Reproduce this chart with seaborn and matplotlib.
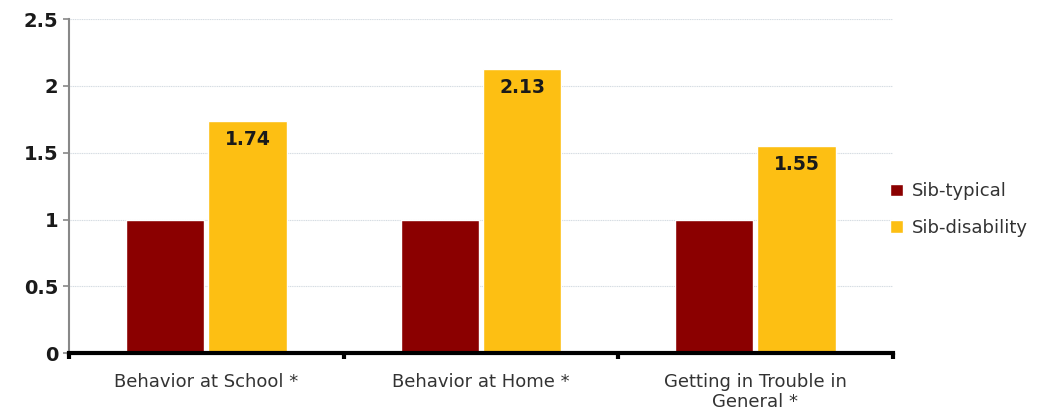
import matplotlib
matplotlib.use("Agg")
import matplotlib.pyplot as plt
import seaborn as sns
import pandas as pd

categories = ["Behavior at School *", "Behavior at Home *", "Getting in Trouble in\nGeneral *"]
groups = ["Sib-typical", "Sib-disability"]
sib_typical = [1.0, 1.0, 1.0]
sib_disability = [1.74, 2.13, 1.55]
yticks = [0, 0.5, 1, 1.5, 2, 2.5]
ytick_labels = ["0", "0.5", "1", "1.5", "2", "2.5"]

colors = {"Sib-typical": "#8B0000", "Sib-disability": "#FDBF13"}

df = pd.DataFrame({
    "category": categories * 2,
    "group": [groups[0]] * 3 + [groups[1]] * 3,
    "value": sib_typical + sib_disability,
})

sns.set_style("white")
plt.rcParams["font.family"] = ["DejaVu Sans"]

fig = plt.figure(figsize=(10.48, 4.15), dpi=100)
ax = fig.add_axes([0.0658, 0.149, 0.786, 0.805])

sns.barplot(data=df, x="category", y="value", hue="group", order=categories,
            hue_order=groups, palette=colors, width=0.6, gap=0.05,
            saturation=1, errorbar=None, ax=ax, legend=True)

# value labels inside the disability bars
cont = ax.containers[1]
for rect, v in zip(cont, sib_disability):
    ax.text(rect.get_x() + rect.get_width() / 2, v - 0.14, f"{v:.2f}",
            ha="center", va="center", fontsize=13.5, fontweight="bold",
            color="#1a1a1a")

ax.set_ylim(0, 2.5)
ax.set_xlim(-0.5, 2.5)
ax.set_yticks(yticks)
ax.set_yticklabels(ytick_labels, fontsize=14, fontweight="bold", color="#1a1a1a")
ax.yaxis.grid(True, color="#d5dce2", linestyle=(0, (1, 0.6)), linewidth=0.8)
ax.set_axisbelow(True)
ax.set_xlabel("")
ax.set_ylabel("")
ax.tick_params(axis="x", which="major", length=0, labelsize=13,
               labelcolor="#333333", pad=14)
ax.set_xticks([-0.5, 0.5, 1.5, 2.5], minor=True)
ax.tick_params(axis="x", which="minor", bottom=True, length=4, width=3,
               color="black", direction="out")
ax.tick_params(axis="y", left=True, length=4, color="#888888", direction="out", width=1.2)

for s in ["top", "right"]:
    ax.spines[s].set_visible(False)
ax.spines["left"].set_color("#888888")
ax.spines["left"].set_linewidth(1.5)
ax.spines["bottom"].set_color("black")
ax.spines["bottom"].set_linewidth(3)

leg = ax.legend(loc="center left", bbox_to_anchor=(0.977, 0.43), frameon=False,
                fontsize=13, handlelength=0.7, handleheight=0.7,
                handletextpad=0.5, labelspacing=1.0)
for t in leg.get_texts():
    t.set_color("#333333")

fig.savefig("out.png", dpi=100)
